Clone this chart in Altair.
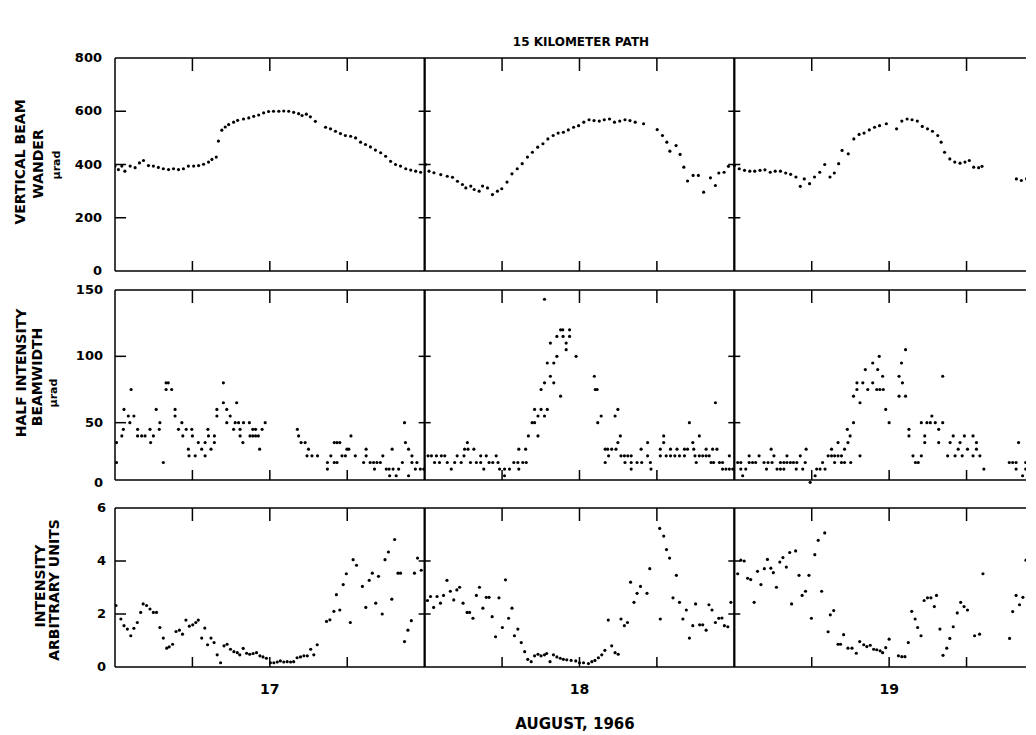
import altair as alt
import pandas as pd

# ---------------- data ----------------
wander_day = [16.500, 16.511, 16.522, 16.532, 16.549, 16.565, 16.579, 16.592, 16.608, 16.624,
              16.640, 16.656, 16.673, 16.689, 16.705, 16.721, 16.737, 16.754, 16.770, 16.786,
              16.802, 16.813, 16.827, 16.834, 16.845, 16.856, 16.867, 16.883, 16.896, 16.915,
              16.932, 16.948, 16.964, 16.980, 16.996, 17.012, 17.029, 17.045, 17.061, 17.077,
              17.093, 17.104, 17.118, 17.131, 17.147, 17.180, 17.196, 17.212, 17.228, 17.244,
              17.261, 17.277, 17.293, 17.309, 17.325, 17.341, 17.358, 17.374, 17.390, 17.406,
              17.422, 17.439, 17.455, 17.471, 17.487, 17.503, 17.514, 17.530, 17.552, 17.573,
              17.590, 17.606, 17.622, 17.633, 17.649, 17.660, 17.676, 17.687, 17.703, 17.719,
              17.735, 17.749, 17.766, 17.782, 17.799, 17.815, 17.832, 17.848, 17.865, 17.882,
              17.898, 17.915, 17.931, 17.948, 17.964, 17.981, 17.997, 18.014, 18.031, 18.047,
              18.064, 18.080, 18.097, 18.113, 18.130, 18.147, 18.163, 18.180, 18.207, 18.251,
              18.268, 18.282, 18.292, 18.312, 18.325, 18.337, 18.349, 18.367, 18.384, 18.401,
              18.423, 18.439, 18.450, 18.467, 18.481, 18.500, 18.516, 18.533, 18.550, 18.566,
              18.583, 18.599, 18.616, 18.632, 18.649, 18.666, 18.682, 18.699, 18.713, 18.726,
              18.743, 18.759, 18.776, 18.792, 18.809, 18.823, 18.837, 18.848, 18.868, 18.886,
              18.903, 18.919, 18.936, 18.953, 18.969, 18.991, 19.024, 19.041, 19.058, 19.074,
              19.091, 19.107, 19.124, 19.140, 19.157, 19.168, 19.179, 19.196, 19.212, 19.229,
              19.245, 19.259, 19.273, 19.289, 19.300, 19.411, 19.427, 19.444, 19.461, 19.472]
wander_val = [394, 381, 394, 375, 394, 388, 406, 415, 396, 394,
              389, 384, 381, 384, 381, 384, 394, 394, 396, 401,
              409, 419, 428, 488, 529, 541, 550, 559, 566, 571,
              575, 581, 586, 594, 599, 600, 600, 601, 600, 596,
              591, 584, 589, 579, 562, 540, 534, 525, 516, 509,
              506, 500, 484, 475, 466, 454, 444, 431, 412, 400,
              394, 384, 379, 375, 371, 400, 375, 369, 362, 356,
              352, 337, 325, 312, 319, 306, 300, 319, 312, 287,
              300, 309, 334, 365, 384, 403, 428, 446, 465, 478,
              496, 509, 518, 521, 530, 540, 546, 559, 568, 565,
              563, 568, 571, 559, 563, 568, 565, 559, 553, 531,
              509, 484, 450, 471, 438, 390, 338, 359, 359, 296,
              350, 321, 368, 371, 393, 396, 384, 378, 375, 375,
              378, 380, 371, 375, 375, 368, 363, 353, 318, 346,
              328, 353, 371, 400, 353, 368, 403, 453, 440, 496,
              513, 518, 530, 540, 546, 553, 534, 563, 571, 568,
              563, 543, 534, 525, 509, 484, 446, 421, 409, 405,
              409, 415, 390, 388, 393, 346, 340, 346, 359, 371]

bw_day = [16.505, 16.505, 16.522, 16.527, 16.529, 16.543, 16.548, 16.552, 16.561, 16.573,
          16.573, 16.586, 16.597, 16.613, 16.615, 16.624, 16.633, 16.643, 16.645, 16.656,
          16.665, 16.665, 16.672, 16.683, 16.694, 16.694, 16.705, 16.716, 16.719, 16.730,
          16.737, 16.739, 16.748, 16.750, 16.759, 16.769, 16.780, 16.791, 16.791, 16.800,
          16.802, 16.810, 16.821, 16.821, 16.829, 16.829, 16.850, 16.850, 16.861, 16.861,
          16.872, 16.883, 16.888, 16.893, 16.899, 16.904, 16.904, 16.913, 16.915, 16.934,
          16.936, 16.945, 16.945, 16.954, 16.954, 16.963, 16.967, 16.975, 16.985,
          17.089, 17.093, 17.101, 17.114, 17.120, 17.125, 17.136, 17.154, 17.186, 17.186,
          17.197, 17.208, 17.208, 17.217, 17.217, 17.226, 17.233, 17.244, 17.249, 17.255,
          17.262, 17.276, 17.303, 17.311, 17.311, 17.324, 17.335, 17.338, 17.346, 17.357,
          17.365, 17.376, 17.385, 17.387, 17.395, 17.398, 17.408, 17.416, 17.428, 17.435,
          17.438, 17.448, 17.448, 17.459, 17.459, 17.470, 17.475, 17.486, 17.497,
          17.511, 17.522, 17.532, 17.538, 17.548, 17.554, 17.565, 17.573, 17.586, 17.597,
          17.605, 17.618, 17.627, 17.629, 17.638, 17.640, 17.648, 17.659, 17.667, 17.681,
          17.681, 17.691, 17.699, 17.708, 17.720, 17.731, 17.737, 17.742, 17.758, 17.758,
          17.774, 17.788, 17.801, 17.804, 17.804, 17.817, 17.826, 17.828, 17.835, 17.847,
          17.855, 17.855, 17.866, 17.866, 17.876, 17.876, 17.887, 17.887, 17.887, 17.896,
          17.896, 17.906, 17.906, 17.917, 17.917, 17.927, 17.927, 17.939, 17.939, 17.946,
          17.947, 17.957, 17.957, 17.968, 17.968, 17.989, 18.048, 18.051, 18.057, 18.059,
          18.070, 18.083, 18.083, 18.091, 18.094, 18.104, 18.115, 18.118, 18.124, 18.124,
          18.132, 18.134, 18.145, 18.147, 18.156, 18.167, 18.167, 18.167, 18.186, 18.199,
          18.201, 18.220, 18.220, 18.229, 18.231, 18.261, 18.261, 18.272, 18.272, 18.280,
          18.294, 18.294, 18.308, 18.315, 18.323, 18.339, 18.339, 18.349, 18.355, 18.366,
          18.369, 18.373, 18.377, 18.387, 18.387, 18.398, 18.409, 18.409, 18.419, 18.425,
          18.430, 18.433, 18.439, 18.444, 18.452, 18.462, 18.462, 18.473, 18.484, 18.484,
          18.495,
          18.511, 18.521, 18.521, 18.527, 18.537, 18.548, 18.548, 18.559, 18.569, 18.580,
          18.596, 18.604, 18.609, 18.619, 18.622, 18.628, 18.638, 18.649, 18.649, 18.660,
          18.660, 18.670, 18.670, 18.681, 18.691, 18.700, 18.702, 18.713, 18.721, 18.729,
          18.732, 18.745, 18.761, 18.766, 18.777, 18.785, 18.793, 18.803, 18.814, 18.814,
          18.824, 18.824, 18.835, 18.835, 18.846, 18.846, 18.856, 18.856, 18.865, 18.867,
          18.874, 18.876, 18.885, 18.885, 18.896, 18.896, 18.906, 18.906, 18.915, 18.923,
          18.931, 18.947, 18.947, 18.960, 18.963, 18.968, 18.970, 18.979, 18.981, 18.989,
          19.000, 19.032, 19.032, 19.040, 19.043, 19.053, 19.053, 19.064, 19.064, 19.077,
          19.085, 19.094, 19.104, 19.104, 19.115, 19.115, 19.122, 19.133, 19.138, 19.149,
          19.160, 19.160, 19.173, 19.173, 19.189, 19.197, 19.207, 19.213, 19.223, 19.229,
          19.236, 19.243, 19.253, 19.271, 19.271, 19.282, 19.282, 19.293, 19.306, 19.388,
          19.399, 19.410, 19.410, 19.418, 19.431, 19.441, 19.441, 19.452, 19.452, 19.463,
          19.468]
bw_val = [35, 20, 40, 45, 60, 55, 50, 75, 55, 45,
          40, 40, 40, 45, 35, 40, 60, 45, 50, 20,
          80, 75, 80, 75, 60, 55, 45, 50, 40, 45,
          30, 25, 45, 40, 25, 35, 30, 25, 35, 45,
          40, 30, 40, 35, 60, 55, 80, 65, 60, 50,
          55, 45, 50, 65, 50, 45, 40, 35, 50, 50,
          40, 45, 40, 45, 40, 40, 30, 45, 50,
          45, 40, 35, 35, 25, 30, 25, 25, 20, 15,
          25, 20, 35, 20, 35, 35, 25, 25, 30, 30,
          40, 25, 20, 30, 25, 20, 20, 15, 20, 20,
          25, 15, 15, 10, 30, 15, 10, 15, 20, 50,
          35, 30, 10, 25, 20, 15, 20, 15, 15,
          25, 25, 20, 25, 20, 25, 25, 20, 15, 20,
          25, 20, 25, 30, 35, 30, 20, 30, 20, 20,
          25, 15, 25, 20, 20, 25, 20, 15, 15, 10,
          15, 20, 20, 15, 30, 20, 30, 20, 40, 50,
          50, 60, 40, 55, 60, 75, 55, 80, 143, 60,
          95, 110, 85, 95, 80, 115, 100, 120, 70, 120,
          115, 110, 105, 120, 115, 100, 85, 75, 75, 50,
          55, 30, 20, 30, 25, 30, 55, 30, 60, 35,
          40, 25, 25, 20, 25, 25, 20, 15, 20, 30,
          20, 35, 25, 20, 15, 30, 25, 40, 35, 25,
          25, 30, 25, 30, 25, 25, 30, 30, 50, 35,
          30, 25, 20, 40, 25, 25, 25, 30, 25, 20,
          30, 20, 65, 30, 20, 20, 15, 15, 15, 25,
          15,
          20, 20, 15, 10, 15, 25, 20, 20, 20, 25,
          20, 15, 20, 30, 20, 25, 15, 15, 20, 15,
          20, 20, 25, 20, 20, 15, 20, 25, 15, 20,
          30, 5, 10, 15, 15, 20, 15, 25, 25, 30,
          20, 25, 35, 25, 25, 20, 20, 30, 45, 35,
          40, 20, 50, 70, 80, 75, 65, 25, 80, 90,
          75, 95, 80, 75, 90, 100, 75, 85, 75, 60,
          50, 85, 70, 95, 80, 105, 70, 45, 40, 25,
          20, 20, 25, 50, 40, 35, 50, 50, 55, 50,
          45, 35, 50, 85, 25, 35, 40, 25, 30, 35,
          25, 40, 30, 40, 25, 35, 30, 25, 15, 20,
          20, 15, 20, 35, 10, 15, 20, 20, 15, 25,
          20]

int_day = [16.503, 16.519, 16.529, 16.540, 16.551, 16.561, 16.572, 16.583, 16.591, 16.602,
           16.613, 16.624, 16.634, 16.645, 16.656, 16.667, 16.675, 16.686, 16.697, 16.708,
           16.718, 16.729, 16.740, 16.751, 16.761, 16.769, 16.780, 16.790, 16.799, 16.810,
           16.820, 16.830, 16.841, 16.852, 16.862, 16.873, 16.884, 16.895, 16.903, 16.914,
           16.925, 16.935, 16.946, 16.957, 16.968, 16.978, 16.989, 17.002, 17.013, 17.024,
           17.034, 17.045, 17.056, 17.067, 17.077, 17.088, 17.099, 17.110, 17.121, 17.132,
           17.142, 17.153, 17.183, 17.194, 17.207, 17.215, 17.226, 17.237, 17.247, 17.260,
           17.269, 17.280, 17.299, 17.310, 17.321, 17.331, 17.342, 17.351, 17.363, 17.372,
           17.383, 17.394, 17.403, 17.414, 17.422, 17.435, 17.446, 17.457, 17.467, 17.477,
           17.489, 17.509, 17.519, 17.529, 17.540, 17.551, 17.561, 17.572, 17.583, 17.594,
           17.604, 17.613, 17.624, 17.637, 17.645, 17.656, 17.667, 17.677, 17.688, 17.699,
           17.708, 17.718, 17.729, 17.740, 17.751, 17.761, 17.771, 17.782, 17.790, 17.801,
           17.812, 17.823, 17.833, 17.844, 17.855, 17.866, 17.876, 17.887, 17.894, 17.905,
           17.916, 17.927, 17.938, 17.948, 17.959, 17.973, 17.988, 18.000, 18.013, 18.029,
           18.040, 18.050, 18.061, 18.072, 18.082, 18.093, 18.104, 18.115, 18.125, 18.134,
           18.145, 18.155, 18.165, 18.176, 18.186, 18.197, 18.218, 18.227, 18.259, 18.261,
           18.272, 18.281, 18.291, 18.302, 18.313, 18.323, 18.334, 18.345, 18.355, 18.366,
           18.375, 18.388, 18.398, 18.409, 18.418, 18.428, 18.439, 18.450, 18.460, 18.468,
           18.479, 18.489, 18.511, 18.521, 18.532, 18.543, 18.553, 18.564, 18.575, 18.586,
           18.597, 18.607, 18.618, 18.626, 18.636, 18.647, 18.657, 18.668, 18.679, 18.685,
           18.698, 18.709, 18.719, 18.730, 18.741, 18.749, 18.760, 18.771, 18.782, 18.792,
           18.803, 18.810, 18.821, 18.835, 18.843, 18.853, 18.867, 18.880, 18.894, 18.905,
           18.918, 18.928, 18.939, 18.950, 18.960, 18.971, 18.979, 18.989, 19.000, 19.030,
           19.041, 19.051, 19.062, 19.073, 19.084, 19.092, 19.103, 19.113, 19.124, 19.135,
           19.146, 19.153, 19.164, 19.174, 19.186, 19.196, 19.207, 19.220, 19.231, 19.242,
           19.253, 19.276, 19.292, 19.303, 19.389, 19.399, 19.410, 19.421, 19.432, 19.442]
int_val = [2.32, 1.81, 1.56, 1.43, 1.18, 1.46, 1.68, 2.06, 2.38, 2.32,
           2.19, 2.06, 2.06, 1.49, 1.09, 0.71, 0.76, 0.86, 1.34, 1.39,
           1.24, 1.77, 1.54, 1.59, 1.68, 1.77, 1.09, 1.47, 0.84, 1.09,
           0.92, 0.46, 0.16, 0.80, 0.86, 0.67, 0.58, 0.54, 0.46, 0.70,
           0.52, 0.48, 0.51, 0.54, 0.42, 0.38, 0.33, 0.16, 0.16, 0.19,
           0.23, 0.19, 0.20, 0.19, 0.20, 0.35, 0.38, 0.42, 0.42, 0.67,
           0.46, 0.84, 1.72, 1.78, 2.10, 2.73, 2.15, 3.11, 3.52, 1.68,
           4.05, 3.84, 3.04, 2.25, 3.27, 3.54, 2.41, 3.42, 2.00, 4.05,
           4.34, 2.56, 4.81, 3.54, 3.54, 0.96, 1.39, 1.75, 3.54, 4.11,
           3.65, 2.51, 2.66, 2.25, 2.66, 2.41, 2.70, 3.27, 2.86, 2.53,
           2.91, 3.01, 2.41, 2.06, 2.06, 1.84, 2.70, 3.01, 2.22, 2.63,
           2.63, 1.90, 1.14, 2.61, 1.49, 3.29, 1.84, 2.22, 1.18, 1.43,
           0.92, 0.58, 0.29, 0.20, 0.42, 0.48, 0.42, 0.46, 0.51, 0.20,
           0.46, 0.38, 0.33, 0.29, 0.27, 0.25, 0.23, 0.16, 0.16, 0.13,
           0.20, 0.25, 0.35, 0.46, 0.63, 1.77, 0.80, 0.54, 0.48, 1.81,
           1.56, 1.68, 3.20, 2.44, 2.78, 3.04, 2.78, 3.71, 5.23, 1.81,
           4.94, 4.43, 4.11, 2.61, 3.46, 2.44, 1.81, 2.15, 1.09, 1.56,
           2.38, 1.59, 1.59, 1.39, 2.35, 2.15, 1.68, 1.84, 1.85, 1.56,
           1.52, 2.44, 3.52, 4.03, 4.00, 3.35, 3.30, 2.44, 3.61, 3.11,
           3.71, 4.06, 3.73, 3.56, 3.01, 3.96, 4.13, 3.77, 4.32, 2.38,
           4.38, 3.46, 2.70, 2.86, 3.46, 1.84, 4.24, 4.78, 2.86, 5.06,
           1.33, 1.97, 2.13, 0.86, 0.86, 1.22, 0.71, 0.71, 0.52, 0.96,
           0.84, 0.77, 0.82, 0.67, 0.65, 0.61, 0.54, 0.73, 1.05, 0.42,
           0.39, 0.39, 0.92, 2.10, 1.81, 1.49, 1.18, 2.51, 2.61, 2.61,
           2.28, 2.70, 1.43, 0.44, 0.71, 1.08, 1.52, 2.04, 2.44, 2.28,
           2.15, 1.18, 1.24, 3.52, 1.08, 2.09, 2.70, 2.35, 2.63, 4.03]

minor_days = [16.75, 17.0, 17.25, 17.75, 18.0, 18.25, 18.75, 19.0, 19.25]
dividers = [17.5, 18.5]
day_labels = [17, 18, 19]

wander_labels = [0, 200, 400, 600, 800]
wander_inner = [200, 400, 600]
bw_labels = [50, 100, 150]
bw_inner = [50, 100]
int_labels = [0, 2, 4, 6]
int_inner = [2, 4]

# ---------------- layout constants ----------------
FONT = "DejaVu Sans"
W = 911
X_DOMAIN = [16.5, 19.442]
ONE = pd.DataFrame({"k": [0]})


def text(t, x, y, size=13, angle=0, align="center"):
    return alt.Chart(ONE).mark_text(
        text=t, angle=angle, font=FONT, fontSize=size, fontWeight="bold",
        color="black", align=align, baseline="middle"
    ).encode(x=alt.value(x), y=alt.value(y))


def panel(days, vals, ymax, ylabels, inner, h, box_h, label_x, xlabels, texts):
    xs = alt.Scale(domain=X_DOMAIN, nice=False, zero=False)
    ys = alt.Scale(domain=[0, ymax], nice=False, zero=False)
    df = pd.DataFrame({"day": days, "val": vals})
    pts = alt.Chart(df).mark_circle(size=10, color="black", opacity=1, clip=True).encode(
        x=alt.X("day:Q", scale=xs, axis=None),
        y=alt.Y("val:Q", scale=ys, axis=None))
    rule = dict(color="black", strokeWidth=1.5)
    top = alt.Chart(ONE).mark_rule(**rule).encode(
        x=alt.value(0), x2=alt.value(W), y=alt.value(0))
    bottom = alt.Chart(ONE).mark_rule(**rule).encode(
        x=alt.value(0), x2=alt.value(W), y=alt.value(box_h))
    left = alt.Chart(ONE).mark_rule(**rule).encode(
        x=alt.value(0), y=alt.value(0), y2=alt.value(box_h))
    tdf = pd.DataFrame({"day": minor_days})
    ttop = alt.Chart(tdf).mark_rule(**rule).encode(
        x=alt.X("day:Q", scale=xs, axis=None), y=alt.value(0), y2=alt.value(13))
    tbot = alt.Chart(tdf).mark_rule(**rule).encode(
        x=alt.X("day:Q", scale=xs, axis=None), y=alt.value(box_h - 10), y2=alt.value(box_h))
    ddf = pd.DataFrame({"day": dividers})
    div = alt.Chart(ddf).mark_rule(color="black", strokeWidth=2.3).encode(
        x=alt.X("day:Q", scale=xs, axis=None), y=alt.value(0), y2=alt.value(box_h))
    ydf = pd.DataFrame({"val": inner})
    ytk = alt.Chart(ydf).mark_rule(**rule).encode(
        y=alt.Y("val:Q", scale=ys, axis=None), x=alt.value(0), x2=alt.value(11))
    cdf = pd.DataFrame({"day": [d for d in dividers for _ in inner],
                        "val": [v for _ in dividers for v in inner]})
    cross = alt.Chart(cdf).mark_rule(xOffset=-6, x2Offset=6, **rule).encode(
        x=alt.X("day:Q", scale=xs, axis=None), x2=alt.X2("day:Q"),
        y=alt.Y("val:Q", scale=ys, axis=None))
    ylab = alt.Chart(pd.DataFrame({"val": ylabels})).mark_text(
        font=FONT, fontSize=13, fontWeight="bold", color="black",
        align="right", baseline="middle").encode(
        y=alt.Y("val:Q", scale=ys, axis=None), x=alt.value(label_x), text="val:Q")
    layers = [pts, top, bottom, left, ttop, tbot, div, ytk, cross, ylab]
    if xlabels:
        xlab = alt.Chart(pd.DataFrame({"day": xlabels})).mark_text(
            font=FONT, fontSize=14, fontWeight="bold", color="black",
            align="center", baseline="middle").encode(
            x=alt.X("day:Q", scale=xs, axis=None), y=alt.value(h + 23), text="day:Q")
        layers.append(xlab)
    return alt.layer(*layers, *texts).properties(width=W, height=h)


p1 = panel(wander_day, wander_val, 800, wander_labels, wander_inner, 213, 213, -13, None, [
    text("15 KILOMETER PATH", 466, -16, 12),
    text("VERTICAL BEAM", -94, 104, 14, 270),
    text("WANDER", -76, 106, 14, 270),
    text("µrad", -58, 107, 11, 270),
])
p2 = panel(bw_day, bw_val, 150, bw_labels, bw_inner, 199, 190, -12, None, [
    text("0", -12, 193, 13, 0, "right"),
    text("HALF INTENSITY", -93, 83, 14, 270),
    text("BEAMWIDTH", -77, 87, 14, 270),
    text("µrad", -61, 103, 11, 270),
])
p3 = panel(int_day, int_val, 6, int_labels, int_inner, 159, 159, -9, day_labels, [
    text("INTENSITY", -74, 78, 14, 270),
    text("ARBITRARY UNITS", -60, 82, 14, 270),
    text("AUGUST, 1966", 460, 216, 15),
])

chart = alt.vconcat(p1, p2, p3, spacing=19, bounds="flush").properties(
    padding={"left": 6, "top": 28, "right": 0, "bottom": 0},
    background="white"
).configure_view(strokeWidth=0, stroke="transparent")

chart.save("out.html", embed_options={"renderer": "svg", "actions": False})
